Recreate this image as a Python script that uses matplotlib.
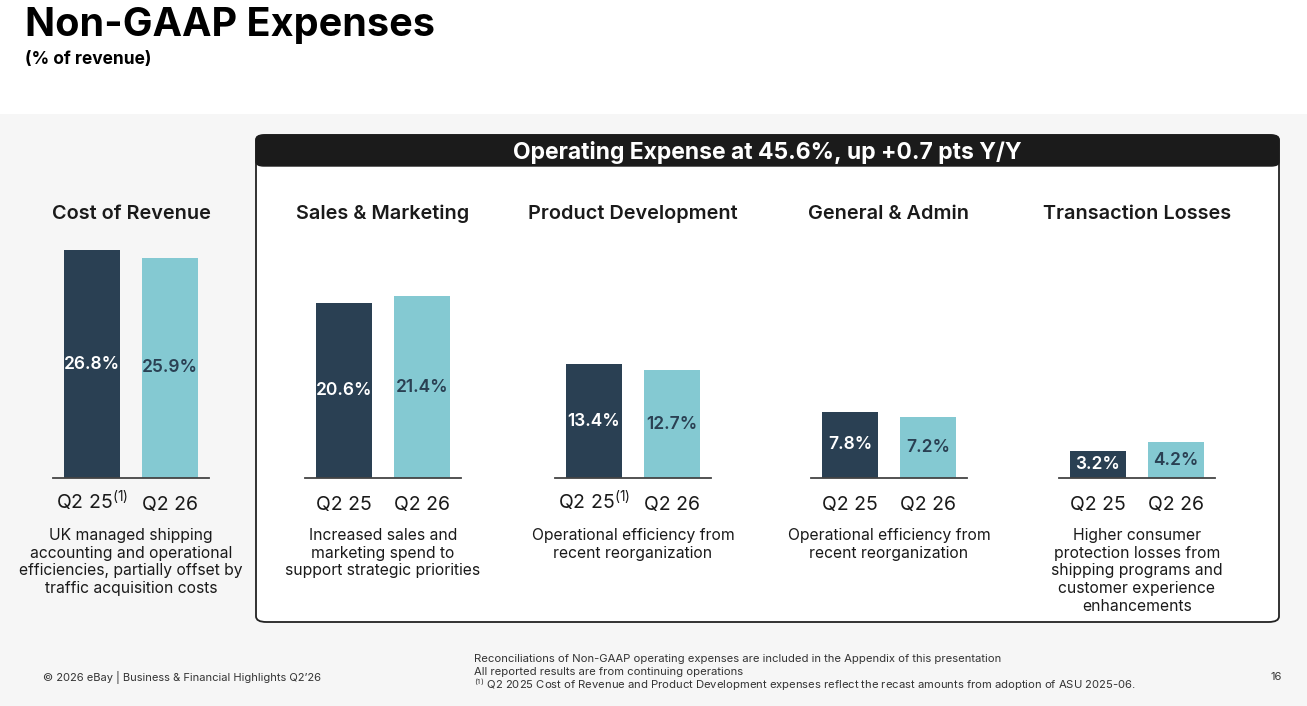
import matplotlib.pyplot as plt
from matplotlib.patches import FancyBboxPatch, Rectangle

plt.rcParams['font.family'] = ['Inter', 'DejaVu Sans']

# data
groups = ['Cost of Revenue', 'Sales & Marketing', 'Product Development',
          'General & Admin', 'Transaction Losses']
q2_25 = [26.8, 20.6, 13.4, 7.8, 3.2]
q2_26 = [25.9, 21.4, 12.7, 7.2, 4.2]
tick_labels = [['Q2 25$^{\\mathregular{(1)}}$', 'Q2 26'],
               ['Q2 25', 'Q2 26'],
               ['Q2 25$^{\\mathregular{(1)}}$', 'Q2 26'],
               ['Q2 25', 'Q2 26'],
               ['Q2 25', 'Q2 26']]
notes = ['UK managed shipping\naccounting and operational\nefficiencies, partially offset by\ntraffic acquisition costs',
         'Increased sales and\nmarketing spend to\nsupport strategic priorities',
         'Operational efficiency from\nrecent reorganization',
         'Operational efficiency from\nrecent reorganization',
         'Higher consumer\nprotection losses from\nshipping programs and\ncustomer experience\nenhancements']

W, H = 1307, 706
DARK = '#2a4053'
LIGHT = '#84c9d2'
TXT = '#1a1a1a'


def fx(x):
    return x / W


def fy(y):
    return 1 - y / H


fig = plt.figure(figsize=(W / 100, H / 100), dpi=100)
fig.patch.set_facecolor('white')

# grey slide body
fig.patches.append(Rectangle((0, 0), 1, fy(114), transform=fig.transFigure,
                             facecolor='#f6f6f6', edgecolor='none', zorder=0))
# framed opex box
fig.patches.append(FancyBboxPatch((fx(256), fy(622)), fx(1279) - fx(256), fy(135) - fy(622),
                                  boxstyle='round,pad=0,rounding_size=0.008',
                                  transform=fig.transFigure, facecolor='white',
                                  edgecolor='#222222', linewidth=1.3, zorder=1))
fig.patches.append(FancyBboxPatch((fx(256), fy(166)), fx(1279) - fx(256), fy(135) - fy(166),
                                  boxstyle='round,pad=0,rounding_size=0.006',
                                  transform=fig.transFigure, facecolor='#1b1b1b',
                                  edgecolor='#1b1b1b', linewidth=1, zorder=2))
fig.text(fx(767), fy(152), 'Operating Expense at 45.6%, up +0.7 pts Y/Y', color='white',
         fontsize=16.5, fontweight='bold', ha='center', va='center', zorder=3)

fig.text(fx(25), fy(26), 'Non-GAAP Expenses', fontsize=28.5, fontweight='bold',
         color='black', ha='left', va='center')
fig.text(fx(25), fy(60), '(% of revenue)', fontsize=12.5, fontweight='bold',
         color='black', ha='left', va='center')

left_px = [53, 305, 555, 811, 1059]
px_per_pct = 8.5
ax_h = 260
base_y = 478
for i, g in enumerate(groups):
    ax = fig.add_axes([fx(left_px[i]), fy(base_y), 156 / W, ax_h / H])
    ax.set_zorder(5)
    ax.patch.set_alpha(0)
    vals = [q2_25[i], q2_26[i]]
    bars = ax.bar([0, 1], vals, width=56 / 78, color=[DARK, LIGHT])
    ax.set_xlim(-0.5, 1.5)
    ax.set_ylim(0, ax_h / px_per_pct)
    for s in ['top', 'right', 'left']:
        ax.spines[s].set_visible(False)
    ax.spines['bottom'].set_color('#444444')
    ax.spines['bottom'].set_linewidth(1.3)
    ax.set_yticks([])
    ax.set_xticks([0, 1])
    ax.tick_params(axis='x', length=0, pad=23)
    ax.set_xticklabels(tick_labels[i], fontsize=14, color=TXT, va='baseline')
    for b, v, c in zip(bars, vals, ['white', DARK]):
        ax.text(b.get_x() + b.get_width() / 2, v / 2, f'{v:.1f}%', color=c,
                fontsize=12.5, fontweight='semibold', ha='center', va='center')
    cx = left_px[i] + 78
    fig.text(fx(cx), fy(214), g, fontsize=14.3, fontweight='semibold', color=TXT,
             ha='center', va='center', zorder=6)
    fig.text(fx(cx), fy(528), notes[i], fontsize=11.3, color=TXT, ha='center',
             va='top', linespacing=1.22, zorder=6)

# footer
fig.text(fx(43), fy(677), "\u00a9 2026 eBay | Business & Financial Highlights Q2\u201926",
         fontsize=8, color='#333333', ha='left', va='center')
fig.text(fx(474), fy(659), 'Reconciliations of Non-GAAP operating expenses are included in the Appendix of this presentation',
         fontsize=8.1, color='#333333', ha='left', va='center')
fig.text(fx(474), fy(672), 'All reported results are from continuing operations',
         fontsize=8.1, color='#333333', ha='left', va='center')
fig.text(fx(474), fy(685), '$^{\\mathregular{(1)}}$ Q2 2025 Cost of Revenue and Product Development expenses reflect the recast amounts from adoption of ASU 2025-06.',
         fontsize=8.1, color='#333333', ha='left', va='center')
fig.text(fx(1282), fy(677), '16', fontsize=8, color='#333333', ha='right', va='center')

fig.savefig('out.png', dpi=100)
